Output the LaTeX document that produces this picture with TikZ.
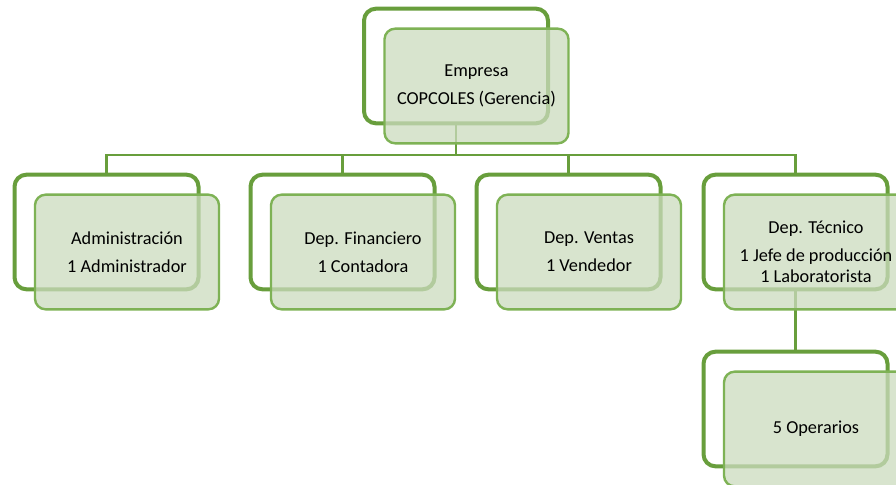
\documentclass[tikz,border=0pt]{standalone}
\usepackage{fontspec}
\setmainfont{Carlito}
\usetikzlibrary{backgrounds}
\definecolor{verdeosc}{RGB}{104,158,60}
\definecolor{verdeclaro}{RGB}{126,178,85}
\definecolor{verdefondo}{RGB}{203,219,190}

\begin{document}
\begin{tikzpicture}[x=0.75pt,y=-0.75pt,
    fondo/.style={draw=verdeosc, line width=3pt, rounded corners=9pt, fill=white,
      minimum width=138pt, minimum height=86pt},
    frente/.style={draw=verdeclaro, line width=1.8pt, rounded corners=8pt,
      fill=verdefondo, fill opacity=0.75, text opacity=1,
      minimum width=138pt, minimum height=86pt, align=center,
      font=\fontsize{13.7}{15.75}\selectfont},
    enlace/.style={draw=verdeosc, line width=2pt}]
  \clip (0,0) rectangle (896,485);
  %
  % macro: box pair at position, name, text
  \newcommand{\puesto}[4]{
    \node[fondo] (#1) at (#2,#3) {};
    \node[frente] (#1f) at (#2+20.5,#3+20) {#4};
  }
  %
  \puesto{ger}{456}{66}{Empresa\\[5.25pt]COPCOLES (Gerencia)}
  \puesto{adm}{106.5}{232}{Administración\\[5.25pt]1 Administrador}
  \puesto{fin}{342.5}{232}{Dep. Financiero\\[5.25pt]1 Contadora}
  \puesto{ven}{568.5}{232}{Dep. Ventas\\[5.25pt]1 Vendedor}
  \puesto{tec}{795.5}{232}{Dep. Técnico\\[5.25pt]1 Jefe de producción\\1 Laboratorista}
  \puesto{ope}{795.5}{409}{5 Operarios}
  %
  \coordinate (barra) at (456,155);
  \begin{scope}[on background layer]
    \draw[enlace] (ger.south) -- (barra) -| (adm.north);
    \draw[enlace] (barra) -| (fin.north);
    \draw[enlace] (barra) -| (ven.north);
    \draw[enlace] (barra) -| (tec.north);
    \draw[enlace] (tec.south) -- (ope.north);
  \end{scope}
\end{tikzpicture}
\end{document}
